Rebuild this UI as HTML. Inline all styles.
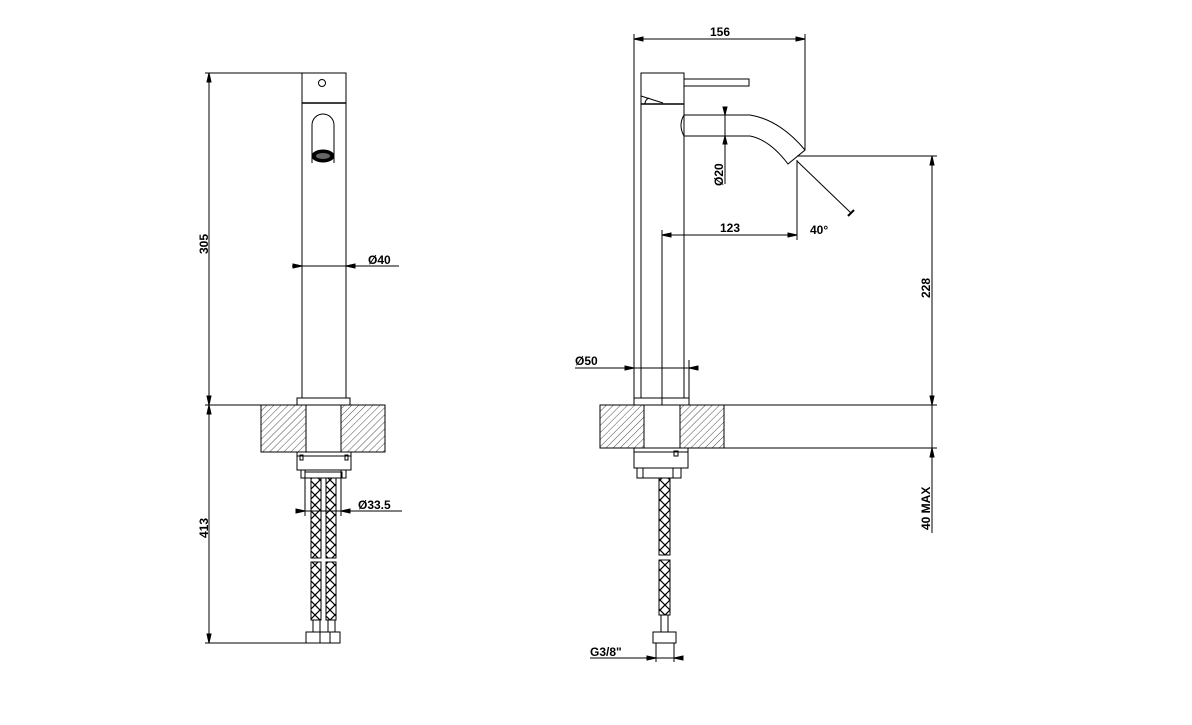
<!DOCTYPE html>
<html><head><meta charset="utf-8"><style>html,body{margin:0;padding:0;background:#fff}svg{display:block}text{font-family:"Liberation Sans",sans-serif;font-weight:bold;font-size:12px;fill:#000}</style></head><body>
<svg width="1192" height="725" viewBox="0 0 1192 725" xmlns="http://www.w3.org/2000/svg">
<defs>
<pattern id="h" width="5" height="5" patternUnits="userSpaceOnUse" patternTransform="rotate(45)"><line x1="0" y1="0" x2="0" y2="5" stroke="#000" stroke-width="0.7"/></pattern>
<pattern id="braid" width="10" height="10" patternUnits="userSpaceOnUse"><path d="M0 0 L10 10 M10 0 L0 10" stroke="#000" stroke-width="1.2"/></pattern>
</defs>
<g stroke="#000" stroke-width="1" fill="none">
<!-- LEFT VIEW -->
<rect x="302" y="73" width="44" height="325"/>
<line x1="302" y1="103" x2="346" y2="103" stroke-width="1.5"/>
<circle cx="322" cy="83" r="3.5"/>
<path d="M312 163 V125 a11 11 0 0 1 22 0 V163"/>
<ellipse cx="323" cy="156" rx="11" ry="6" fill="#000"/>
<ellipse cx="323" cy="156" rx="7" ry="3" fill="#666" stroke="none"/>
<line x1="205" y1="73" x2="302" y2="73"/>
<line x1="209" y1="73" x2="209" y2="643"/>
<path d="M209 73 l-2 9 h4z M209 405 l-2 -9 h4z M209 405 l-2 9 h4z M209 643 l-2 -9 h4z" fill="#000"/>
<text transform="translate(208,254) rotate(-90)" stroke="none">305</text>
<text transform="translate(208,538) rotate(-90)" stroke="none">413</text>
<line x1="205" y1="405" x2="261" y2="405"/>
<line x1="205" y1="643" x2="306" y2="643"/>
<line x1="292" y1="266" x2="399" y2="266"/>
<path d="M302 266 l-9 -2 v4z M346 266 l9 -2 v4z" fill="#000"/>
<text x="368" y="264" stroke="none">Ø40</text>
<rect x="297" y="398" width="53" height="7"/>
<rect x="261" y="405" width="45" height="47" fill="url(#h)"/>
<rect x="341" y="405" width="44" height="47" fill="url(#h)"/>
<line x1="306" y1="405" x2="341" y2="405"/>
<line x1="306" y1="452" x2="341" y2="452"/>
<rect x="297" y="452" width="54" height="18"/>
<line x1="297" y1="456" x2="351" y2="456"/>
<rect x="300" y="455" width="3" height="5"/><rect x="345" y="455" width="3" height="5"/>
<rect x="301" y="470" width="45" height="8"/>
<rect x="305" y="472" width="37" height="6"/>
<rect x="311" y="478" width="10" height="80" fill="url(#braid)"/>
<rect x="326" y="478" width="10" height="80" fill="url(#braid)"/>
<rect x="311" y="562" width="10" height="58" fill="url(#braid)"/>
<rect x="326" y="562" width="10" height="58" fill="url(#braid)"/>
<rect x="313" y="620" width="7" height="12"/><rect x="328" y="620" width="7" height="12"/>
<rect x="306" y="632" width="14" height="11"/><rect x="320" y="632" width="10" height="11"/><rect x="330" y="632" width="10" height="11"/>
<line x1="305" y1="470" x2="305" y2="516"/>
<line x1="341" y1="470" x2="341" y2="516"/>
<line x1="296" y1="511" x2="402" y2="511"/>
<path d="M305 511 l-9 -2 v4z M341 511 l9 -2 v4z" fill="#000"/>
<text x="358" y="509" stroke="none">Ø33.5</text>
<!-- RIGHT VIEW -->
<line x1="634" y1="34" x2="634" y2="398"/>
<line x1="805" y1="34" x2="805" y2="150"/>
<line x1="634" y1="39" x2="805" y2="39"/>
<path d="M634 39 l9 -2 v4z M805 39 l-9 -2 v4z" fill="#000"/>
<text x="720" y="36" stroke="none" text-anchor="middle">156</text>
<rect x="641" y="73" width="43" height="325"/>
<line x1="641" y1="104" x2="684" y2="104" stroke-width="1.5"/>
<path d="M641 96 L663 103 M645 104 a6 6 0 0 1 4 -6"/>
<rect x="684" y="79" width="65" height="7"/>
<path d="M684 115 H750 Q780 120 805 150 L788 164 Q770 140 750 136 H684 Q678 125 684 115"/>
<line x1="725" y1="107" x2="725" y2="184"/>
<path d="M725 115 l-2 -8 h4z M725 136 l-2 8 h4z" fill="#000"/>
<text transform="translate(723,186) rotate(-90)" stroke="none">Ø20</text>
<line x1="797" y1="160" x2="797" y2="240"/>
<line x1="662" y1="230" x2="662" y2="405"/>
<line x1="662" y1="235" x2="797" y2="235"/>
<path d="M662 235 l9 -2 v4z M797 235 l-9 -2 v4z" fill="#000"/>
<text x="730" y="232" stroke="none" text-anchor="middle">123</text>
<line x1="797" y1="161" x2="851" y2="213"/>
<line x1="848" y1="216" x2="854" y2="210" stroke-width="2"/>
<text x="810" y="234" stroke="none">40°</text>
<line x1="797" y1="156" x2="937" y2="156"/>
<line x1="932" y1="156" x2="932" y2="533"/>
<path d="M932 156 l-2 9 h4z M932 405 l-2 -9 h4z M932 448 l-2 9 h4z" fill="#000"/>
<text transform="translate(930,530) rotate(-90)" stroke="none">40 MAX</text>
<text transform="translate(930,298) rotate(-90)" stroke="none">228</text>
<line x1="575" y1="368" x2="698" y2="368"/>
<path d="M634 368 l-9 -2 v4z M689 368 l9 -2 v4z" fill="#000"/>
<line x1="689" y1="360" x2="689" y2="398"/>
<text x="575" y="365" stroke="none">Ø50</text>
<rect x="634" y="398" width="55" height="7"/>
<rect x="600" y="405" width="44" height="43" fill="url(#h)"/>
<rect x="680" y="405" width="44" height="43" fill="url(#h)"/>
<line x1="644" y1="405" x2="680" y2="405"/><line x1="644" y1="448" x2="680" y2="448"/>
<line x1="724" y1="405" x2="937" y2="405"/>
<line x1="724" y1="448" x2="937" y2="448"/>
<rect x="634" y="448" width="54" height="20"/>
<line x1="634" y1="452" x2="688" y2="452"/>
<rect x="674" y="451" width="4" height="5"/>
<rect x="637" y="468" width="6" height="10"/><rect x="673" y="468" width="8" height="10"/>
<rect x="643" y="468" width="30" height="10"/>
<rect x="659" y="478" width="11" height="77" fill="url(#braid)"/>
<rect x="659" y="560" width="11" height="55" fill="url(#braid)"/>
<rect x="661" y="615" width="7" height="17"/>
<rect x="653" y="632" width="23" height="11"/>
<line x1="656" y1="643" x2="656" y2="662"/>
<line x1="674" y1="643" x2="674" y2="662"/>
<line x1="590" y1="658" x2="683" y2="658"/>
<path d="M656 658 l-9 -2 v4z M674 658 l9 -2 v4z" fill="#000"/>
<text x="590" y="656" stroke="none">G3/8"</text>
</g>
</svg>
</body></html>
